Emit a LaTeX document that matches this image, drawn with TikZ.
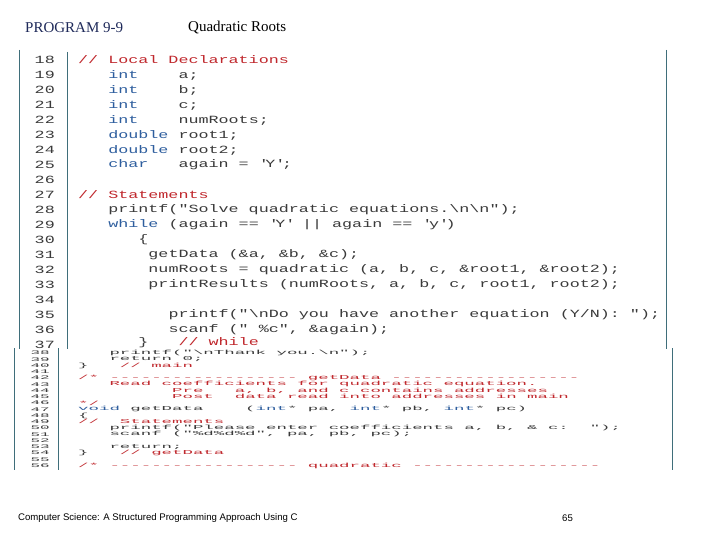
\documentclass[tikz,border=0pt]{standalone}
\usepackage{fontspec}
\setmainfont{Liberation Serif}
\newfontfamily\topmono[FakeStretch=1.52,WordSpace={1,0,0},Ligatures=TeXOff]{Liberation Mono}
\newfontfamily\lowmono[FakeStretch=2.9,WordSpace={1,0,0},Ligatures=TeXOff]{Liberation Mono}
\newfontfamily\footsans{Liberation Sans}
\definecolor{cmt}{HTML}{C0282D}
\definecolor{kwc}{HTML}{2E5E9E}
\definecolor{txt}{HTML}{3A3A3A}
\definecolor{navy}{HTML}{1F2A5A}
\definecolor{frame}{HTML}{3F6E7A}
\newcommand\kw[1]{\textcolor{kwc}{#1}}
\newcommand\cm[1]{\textcolor{cmt}{#1}}
\newcommand\bs{\textbackslash}
\newcommand\sq{\textquotesingle}
\tikzset{
 codeT/.style={anchor=west,inner sep=0pt,font=\topmono\fontsize{11}{11}\selectfont,text=txt},
 numT/.style={anchor=east,inner sep=0pt,font=\topmono\fontsize{11}{11}\selectfont,text=txt},
 codeL/.style={anchor=west,inner sep=0pt,font=\lowmono\fontsize{6}{6}\selectfont,text=txt},
 numL/.style={anchor=east,inner sep=0pt,font=\lowmono\fontsize{5.5}{5.5}\selectfont,text=txt},
 border/.style={draw=frame,line width=1pt},
}
\begin{document}
\begin{tikzpicture}[x=1pt,y=-1pt]
\useasboundingbox[fill=white] (0,0) rectangle (720,540);
\node[anchor=west,inner sep=0pt,font=\fontsize{15}{15}\selectfont,text=navy] (t1) at (25,28) {PROGRAM 9-9};
\node[anchor=west,inner sep=0pt,font=\fontsize{15}{15}\selectfont] (t2) at (188,28) {Quadratic Roots};
% top panel
\draw[border] (19,50) -- (19,349);
\draw[border] (666,50) -- (666,349);
\draw[draw=frame,line width=0.8pt] (67,52) -- (67,349);
\foreach \n [count=\i from 0] in {18,...,37} \node[numT] (n\n) at (55,60+15*\i) {\n};
\node[codeT] (c18) at (78,60) {\cm{//~Local~Declarations}};
\node[codeT] (c19) at (78,75) {~~~\kw{int}~~~~a;};
\node[codeT] (c20) at (78,90) {~~~\kw{int}~~~~b;};
\node[codeT] (c21) at (78,105) {~~~\kw{int}~~~~c;};
\node[codeT] (c22) at (78,120) {~~~\kw{int}~~~~numRoots;};
\node[codeT] (c23) at (78,135) {~~~\kw{double}~root1;};
\node[codeT] (c24) at (78,150) {~~~\kw{double}~root2;};
\node[codeT] (c25) at (78,165) {~~~\kw{char}~~~again~=~\sq Y\sq;};
\node[codeT] (c27) at (78,195) {\cm{//~Statements}};
\node[codeT] (c28) at (78,210) {~~~printf("Solve~quadratic~equations.\bs n\bs n");};
\node[codeT] (c29) at (78,225) {~~~\kw{while}~(again~==~\sq Y\sq~||~again~==~\sq y\sq)};
\node[codeT] (c30) at (78,240) {~~~~~~\{};
\node[codeT] (c31) at (78,255) {~~~~~~~getData~(\&a,~\&b,~\&c);};
\node[codeT] (c32) at (78,270) {~~~~~~~numRoots~=~quadratic~(a,~b,~c,~\&root1,~\&root2);};
\node[codeT] (c33) at (78,285) {~~~~~~~printResults~(numRoots,~a,~b,~c,~root1,~root2);};
\node[codeT] (c35) at (78,315) {~~~~~~~~~printf("\bs nDo~you~have~another~equation~(Y/N):~");};
\node[codeT] (c36) at (78,330) {~~~~~~~~~scanf~("~\%c",~\&again);};
\node[codeT] (c37) at (78,343) {~~~~~~\}~~~\cm{//~while}};
% lower panel
\draw[border] (14,348) -- (14,470);
\draw[border] (672,348) -- (672,470);
\draw[draw=frame,line width=0.8pt] (58,348) -- (58,470);
\def\ly#1{353+6.25*(#1-38)}
\foreach \n in {38,...,56} \node[numL] (m\n) at (50,{\ly{\n}}) {\n};
\node[codeL] (d38) at (78,{\ly{38}}) {~~~printf("\bs nThank~you.\bs n");};
\node[codeL] (d39) at (78,{\ly{39}}) {~~~return~0;};
\node[codeL] (d40) at (78,{\ly{40}}) {\}~~~\cm{//~main}};
\node[codeL] (d42) at (78,{\ly{42}}) {\cm{/*~------------------~getData~------------------}};
\node[codeL] (d43) at (78,{\ly{43}}) {\cm{~~~Read~coefficients~for~quadratic~equation.}};
\node[codeL] (d44) at (78,{\ly{44}}) {\cm{~~~~~~~~~Pre~~~a,~b,~and~c~contains~addresses}};
\node[codeL] (d45) at (78,{\ly{45}}) {\cm{~~~~~~~~~Post~~data~read~into~addresses~in~main}};
\node[codeL] (d46) at (78,{\ly{46}}) {\cm{*/}};
\node[codeL] (d47) at (78,{\ly{47}}) {\kw{void}~getData~~~~(\kw{int}*~pa,~\kw{int}*~pb,~\kw{int}*~pc)};
\node[codeL] (d48) at (78,{\ly{48}}) {\{};
\node[codeL] (d49) at (78,{\ly{49}}) {\cm{//~~Statements}};
\node[codeL] (d50) at (78,{\ly{50}}) {~~~printf("Please~enter~coefficients~a,~b,~\&~c:~~");};
\node[codeL] (d51) at (78,{\ly{51}}) {~~~scanf~("\%d\%d\%d",~pa,~pb,~pc);};
\node[codeL] (d53) at (78,{\ly{53}}) {~~~return;};
\node[codeL] (d54) at (78,{\ly{54}}) {\}~~~\cm{//~getData}};
\node[codeL] (d56) at (78,{\ly{56}}) {\cm{/*~------------------~quadratic~------------------}};
% footer
\node[anchor=west,inner sep=0pt,font=\footsans\fontsize{9.6}{9.6}\selectfont] (f1) at (18,518) {Computer Science: A Structured Programming Approach Using C};
\node[anchor=west,inner sep=0pt,font=\footsans\fontsize{9.6}{9.6}\selectfont] (f2) at (562,518) {65};
\end{tikzpicture}
\end{document}
